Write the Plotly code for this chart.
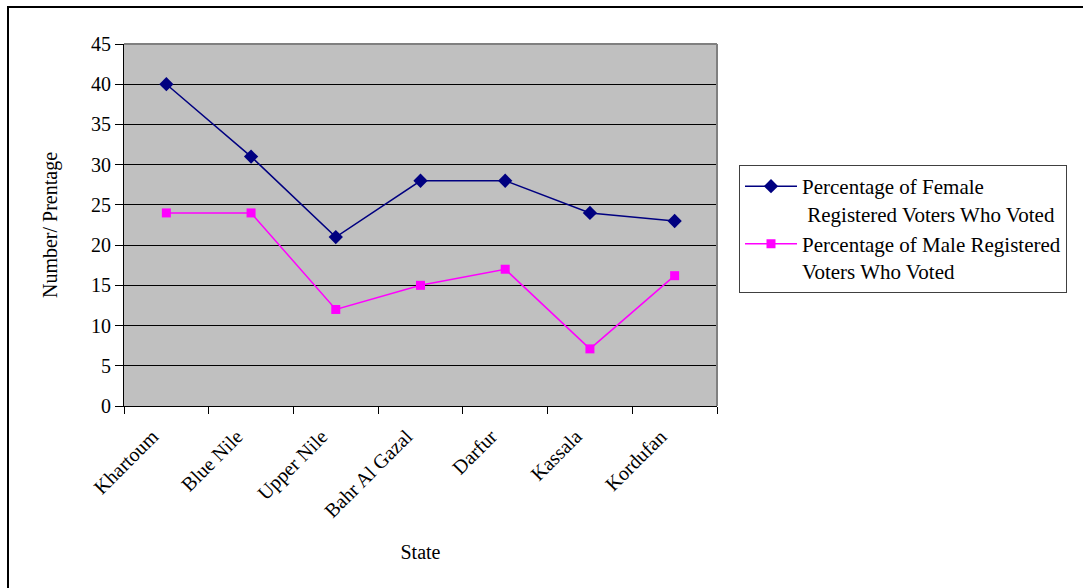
import plotly.graph_objects as go

states = ["Khartoum", "Blue Nile", "Upper Nile", "Bahr Al Gazal", "Darfur", "Kassala", "Kordufan"]
female = [40, 31, 21, 28, 28, 24, 23]
male = [24, 24, 12, 15, 17, 7.1, 16.2]

W, H = 1083, 588
L, R, T, B = 124, 717, 44, 406

fig = go.Figure()
fig.add_trace(go.Scatter(
    x=states, y=female, mode="lines+markers",
    name="Percentage of Female<br> Registered Voters Who Voted",
    line=dict(color="#000080", width=1.5),
    marker=dict(symbol="diamond", size=11, color="#000080"),
))
fig.add_trace(go.Scatter(
    x=states, y=male, mode="lines+markers",
    name="Percentage of Male Registered<br>Voters Who Voted",
    line=dict(color="#FF00FF", width=1.5),
    marker=dict(symbol="square", size=9, color="#FF00FF"),
))

font = "Liberation Serif, Times New Roman, serif"
pw = R - L
ph = B - T

fig.update_layout(
    width=W, height=H,
    margin=dict(l=L, r=W - R, t=T, b=H - B),
    paper_bgcolor="white",
    plot_bgcolor="#C0C0C0",
    font=dict(family=font, size=20, color="black"),
    showlegend=True,
    legend=dict(
        x=(739 - L) / pw, y=(B - 165) / ph, xanchor="left", yanchor="top",
        bordercolor="#404040", borderwidth=1, bgcolor="white",
        font=dict(family=font, size=21, color="black"),
        tracegroupgap=0, valign="top", itemwidth=52,
    ),
    xaxis=dict(
        type="category", tickson="boundaries",
        showgrid=False, showline=True, linecolor="black", linewidth=1,
        ticks="outside", ticklen=7, tickcolor="black",
        tickangle=-45, tickfont=dict(size=20),
        ticklabelshift=-14, ticklabelstandoff=10,
        title=dict(text="State", font=dict(size=20), standoff=24),
        range=[-0.5, 6.5],
    ),
    yaxis=dict(
        range=[0, 45], dtick=5, tick0=0,
        showgrid=True, gridcolor="black", gridwidth=1,
        showline=True, linecolor="black", linewidth=1,
        ticks="outside", ticklen=8, tickcolor="black",
        tickfont=dict(size=20),
        zeroline=False,
        title=dict(text="Number/ Prentage", font=dict(size=20), standoff=28),
    ),
    shapes=[
        dict(type="line", xref="paper", yref="paper", x0=0, x1=1, y0=1, y1=1,
             line=dict(color="#808080", width=2)),
        dict(type="line", xref="paper", yref="paper", x0=1, x1=1, y0=0, y1=1,
             line=dict(color="#808080", width=2)),
        dict(type="rect", xref="paper", yref="paper",
             x0=(8 - L) / pw, x1=(W + 10 - L) / pw,
             y0=(B - (H + 10)) / ph, y1=(B - 7) / ph,
             line=dict(color="black", width=2), layer="below"),
    ],
)

fig.write_html("out.html")
